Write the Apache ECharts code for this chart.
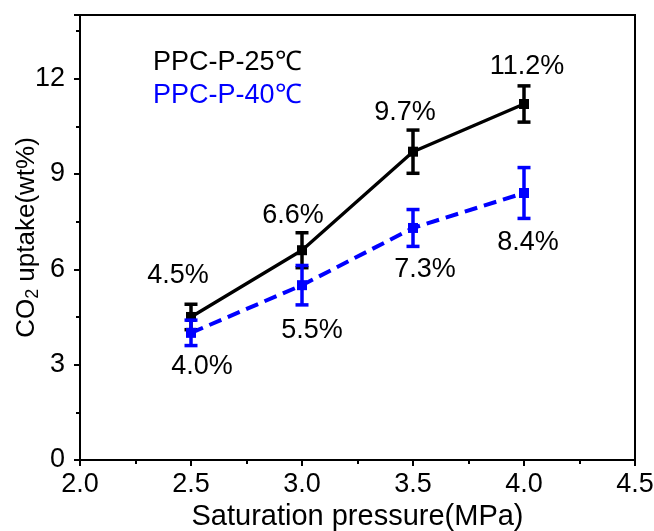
<!DOCTYPE html>
<html>
<head>
<meta charset="utf-8">
<script src="https://cdn.jsdelivr.net/npm/echarts@6/dist/echarts.min.js"></script>
<style>
  html, body { margin: 0; padding: 0; background: #fff; }
  #chart { width: 654px; height: 531px; }
</style>
</head>
<body>
<div id="chart"></div>
<script>
// pressure (MPa)
const pressures = [2.5, 3.0, 3.5, 4.0];

// CO2 uptake at 25 C and its error
const uptake25 = [4.5, 6.6, 9.7, 11.2];
const err25 = [0.4, 0.55, 0.68, 0.57];

// CO2 uptake at 40 C and its error
const uptake40 = [4.0, 5.5, 7.3, 8.4];
const err40 = [0.4, 0.62, 0.58, 0.8];

const xTicks = [2.0, 2.5, 3.0, 3.5, 4.0, 4.5];
const yTicks = [0, 3, 6, 9, 12];

// label nudges (px from the marker) so the % texts sit where the original has them
const labelOffset25 = [[-13, -41], [-9, -35], [-8, -39], [3, -37]];
const labelOffset40 = [[11, 34], [10, 45], [12, 42], [4, 50]];

const FONT = 'Liberation Sans, Arial, sans-serif';
const BLUE = '#0000ff';

const chart = echarts.init(document.getElementById('chart'), null, { renderer: 'canvas' });

function lineData(values, offsets) {
    return pressures.map((p, i) => ({
        value: [p, values[i]],
        label: { offset: offsets[i] }
    }));
}

function errorData(values, errs) {
    return pressures.map((p, i) => [p, values[i] - errs[i], values[i] + errs[i]]);
}

function renderErrorBar(color) {
    return function (params, api) {
        const x = api.value(0);
        const lo = api.coord([x, api.value(1)]);
        const hi = api.coord([x, api.value(2)]);
        const half = 6.5;
        const style = { stroke: color, lineWidth: 3.5 };
        return {
            type: 'group',
            children: [
                { type: 'line', shape: { x1: lo[0], y1: lo[1], x2: hi[0], y2: hi[1] }, style: style },
                { type: 'line', shape: { x1: lo[0] - half, y1: lo[1], x2: lo[0] + half, y2: lo[1] }, style: style },
                { type: 'line', shape: { x1: hi[0] - half, y1: hi[1], x2: hi[0] + half, y2: hi[1] }, style: style }
            ]
        };
    };
}

const pctLabel = {
    show: true,
    position: 'inside',
    fontSize: 27,
    color: '#000',
    fontFamily: FONT,
    formatter: p => p.value[1].toFixed(1) + '%'
};

const option = {
    backgroundColor: '#fff',
    animation: false,
    textStyle: { fontFamily: FONT },
    grid: {
        left: 80, right: 19, top: 15, bottom: 71,
        containLabel: false,
        outerBoundsMode: 'none',
        show: true,
        borderColor: '#000',
        borderWidth: 2
    },
    legend: {
        orient: 'vertical',
        left: 143,
        top: 44,
        icon: 'none',
        itemWidth: 0,
        itemGap: 6,
        textStyle: { fontSize: 27, fontFamily: FONT },
        data: [
            { name: 'PPC-P-25℃', textStyle: { color: '#000' } },
            { name: 'PPC-P-40℃', textStyle: { color: BLUE } }
        ]
    },
    xAxis: {
        type: 'value',
        min: xTicks[0],
        max: xTicks[xTicks.length - 1],
        interval: 0.5,
        name: 'Saturation pressure(MPa)',
        nameLocation: 'middle',
        nameGap: 42,
        nameMoveOverlap: false,
        nameTextStyle: { fontSize: 29, color: '#000', fontFamily: FONT },
        axisLine: { onZero: false, lineStyle: { color: '#000', width: 2 } },
        axisTick: { show: true, length: 6, lineStyle: { width: 2 } },
        minorTick: { show: true, splitNumber: 2, length: 4, lineStyle: { color: '#000', width: 2 } },
        splitLine: { show: false },
        axisLabel: {
            fontSize: 27, color: '#000', margin: 11, fontFamily: FONT,
            formatter: v => v.toFixed(1)
        }
    },
    yAxis: {
        type: 'value',
        min: 0,
        max: 14,
        interval: 3,
        name: 'CO{sub|2} uptake(wt%)',
        nameLocation: 'middle',
        nameGap: 38,
        nameMoveOverlap: false,
        nameRotate: 90,
        nameTextStyle: {
            fontSize: 26, color: '#000', fontFamily: FONT,
            rich: {
                sub: { fontSize: 18, verticalAlign: 'bottom', padding: [12, 0, 0, 0], fontFamily: FONT }
            }
        },
        axisLine: { show: true, lineStyle: { color: '#000', width: 2 } },
        axisTick: { show: true, length: 6, lineStyle: { width: 2 } },
        minorTick: { show: true, splitNumber: 2, length: 4, lineStyle: { color: '#000', width: 2 } },
        splitLine: { show: false },
        axisLabel: {
            fontSize: 27, color: '#000', margin: 15, fontFamily: FONT,
            formatter: v => (yTicks.indexOf(v) >= 0 ? String(v) : '')
        }
    },
    series: [
        {
            name: 'PPC-P-25℃',
            type: 'line',
            data: lineData(uptake25, labelOffset25),
            symbol: 'rect',
            symbolSize: 10,
            z: 3,
            lineStyle: { color: '#000', width: 3.3 },
            itemStyle: { color: '#000' },
            label: pctLabel
        },
        {
            name: 'PPC-P-40℃',
            type: 'line',
            data: lineData(uptake40, labelOffset40),
            symbol: 'rect',
            symbolSize: 10,
            z: 4,
            lineStyle: { color: BLUE, width: 4, type: [13, 7] },
            itemStyle: { color: BLUE },
            label: pctLabel
        },
        {
            name: 'err25',
            type: 'custom',
            data: errorData(uptake25, err25),
            renderItem: renderErrorBar('#000'),
            encode: { x: 0, y: [1, 2] },
            z: 3
        },
        {
            name: 'err40',
            type: 'custom',
            data: errorData(uptake40, err40),
            renderItem: renderErrorBar(BLUE),
            encode: { x: 0, y: [1, 2] },
            z: 4
        }
    ]
};

chart.setOption(option);
</script>
</body>
</html>
